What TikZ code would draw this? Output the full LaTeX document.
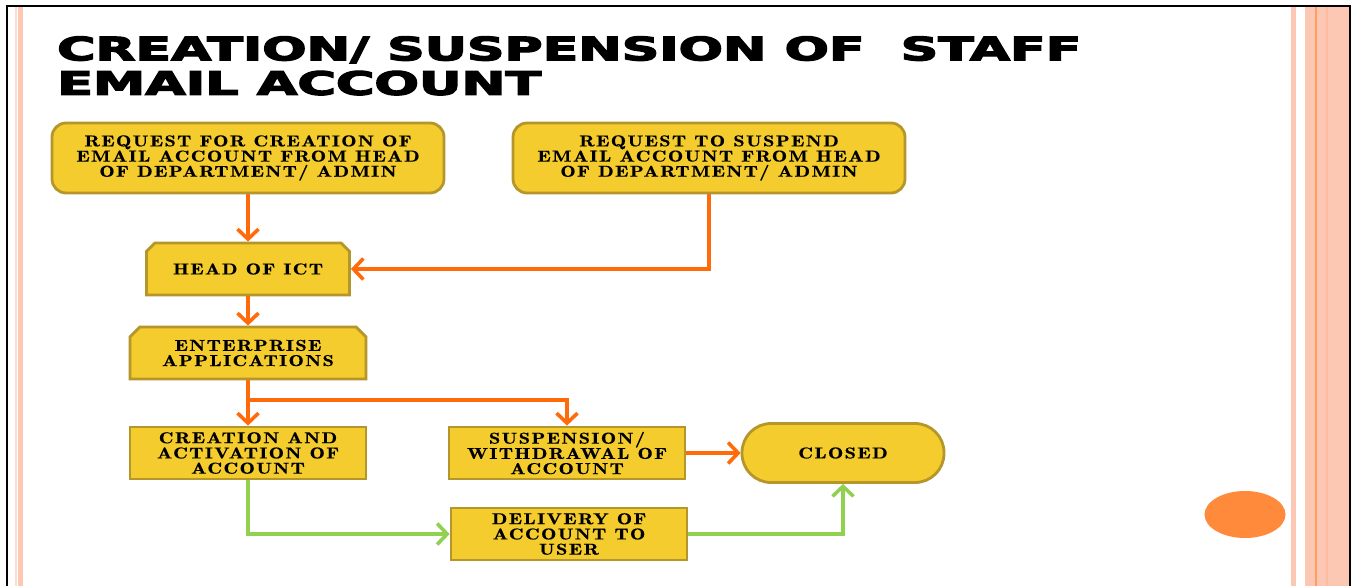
\documentclass[tikz,border=0pt]{standalone}
\usepackage{fontspec}
\usepackage{graphicx}
\usetikzlibrary{arrows.meta,shapes.misc}

\newfontfamily\titlefont{DejaVu Sans Bold}[FakeBold=3.5]
\newfontfamily\boxfont{lmromandemi10-regular.otf}[FakeStretch=1.3,LetterSpace=8,FakeBold=0.2]

\definecolor{boxfill}{HTML}{F4CC2E}
\definecolor{boxedge}{HTML}{B5962A}
\definecolor{flow}{HTML}{FF6A0B}
\definecolor{okflow}{HTML}{92D050}
\definecolor{stripe}{HTML}{FCC8B4}
\definecolor{stripelight}{HTML}{FDDCD0}
\definecolor{stripedark}{HTML}{FF9D62}
\definecolor{stripemid}{HTML}{FCBC9F}
\definecolor{dot}{HTML}{FF8A3B}

\tikzset{
  boxbase/.style={draw=boxedge, fill=boxfill, line width=2.8pt, align=center,
    inner sep=0pt, font=\boxfont\fontsize{15.8}{15.2}\selectfont},
  reqbox/.style={boxbase, rectangle, rounded corners=14pt, minimum width=392pt, minimum height=70pt},
  tabbox/.style={boxbase, chamfered rectangle, chamfered rectangle corners={north west,north east},
    chamfered rectangle xsep=7pt, minimum height=52pt},
  plainbox/.style={boxbase, rectangle, minimum width=236pt, minimum height=52pt},
  endbox/.style={boxbase, rectangle, rounded corners=29pt, minimum width=202pt, minimum height=59pt},
  tipshape/.style={-{Straight Barb[length=10pt,width=21pt,line width=3.6pt]}},
  orangeline/.style={draw=flow, line width=3.6pt, tipshape},
  greenline/.style={draw=okflow, line width=3.6pt, tipshape},
}

\begin{document}
\begin{tikzpicture}[x=1pt,y=-1pt]
  \useasboundingbox (0,0) rectangle (1352,586);
  \fill[white] (0,0) rectangle (1352,586);

  % side stripes
  \fill[stripelight] (15,6) rectangle (16.5,586);
  \fill[stripe] (18,6) rectangle (23,586);
  \fill[stripe] (1290.5,6) rectangle (1296,586);
  \fill[stripe] (1305,6) rectangle (1349,586);
  \fill[stripedark] (1314.8,6) rectangle (1317,586);
  \fill[stripemid] (1325.5,6) rectangle (1328,586);

  % slide frame
  \draw[line width=2.6pt] (7,586) -- (7,6) -- (1350,6) -- (1350,586);

  % title
  \node[anchor=south west, inner sep=0pt] (title1) at (57,61)
    {\resizebox{1024pt}{24pt}{\titlefont CREATION\smash{/} SUSPENSION OF\ \ STAFF}};
  \node[anchor=south west, inner sep=0pt] (title2) at (57,95.5)
    {\resizebox{484pt}{24pt}{\titlefont EMAIL ACCOUNT}};

  % boxes
  \node[reqbox] (reqnew) at (248,158) {REQUEST FOR CREATION OF\\EMAIL ACCOUNT FROM HEAD\\OF DEPARTMENT/ ADMIN};
  \node[reqbox] (reqsus) at (709,158) {REQUEST TO SUSPEND\\EMAIL ACCOUNT FROM HEAD\\OF DEPARTMENT/ ADMIN};
  \node[tabbox, minimum width=203pt] (ict) at (248,269) {HEAD OF ICT};
  \node[tabbox, minimum width=236pt] (ent) at (248,353) {ENTERPRISE\\APPLICATIONS};
  \node[plainbox] (create) at (248,453) {CREATION AND\\ACTIVATION OF\\ACCOUNT};
  \node[plainbox] (suspend) at (567,453) {SUSPENSION/\\WITHDRAWAL OF\\ACCOUNT};
  \node[endbox] (closed) at (843,453) {CLOSED};
  \node[plainbox] (deliver) at (569,534) {DELIVERY OF\\ACCOUNT TO\\USER};

  % decoration dot
  \fill[dot] (1245,514.5) ellipse (40.5pt and 23.5pt);

  % connectors
  \coordinate (split) at (248,400);
  \draw[orangeline] (reqnew.south) -- (ict.north);
  \draw[orangeline] (reqsus.south) |- (ict.east);
  \draw[orangeline] (ict.south) -- (ent.north);
  \draw[orangeline] (ent.south) -- (create.north);
  \draw[orangeline] (split) -| (suspend.north);
  \draw[orangeline] (suspend.east) -- (closed.west);
  \draw[greenline] (create.south) |- (deliver.west);
  \draw[greenline] (deliver.east) -| (closed.south);
\end{tikzpicture}
\end{document}
